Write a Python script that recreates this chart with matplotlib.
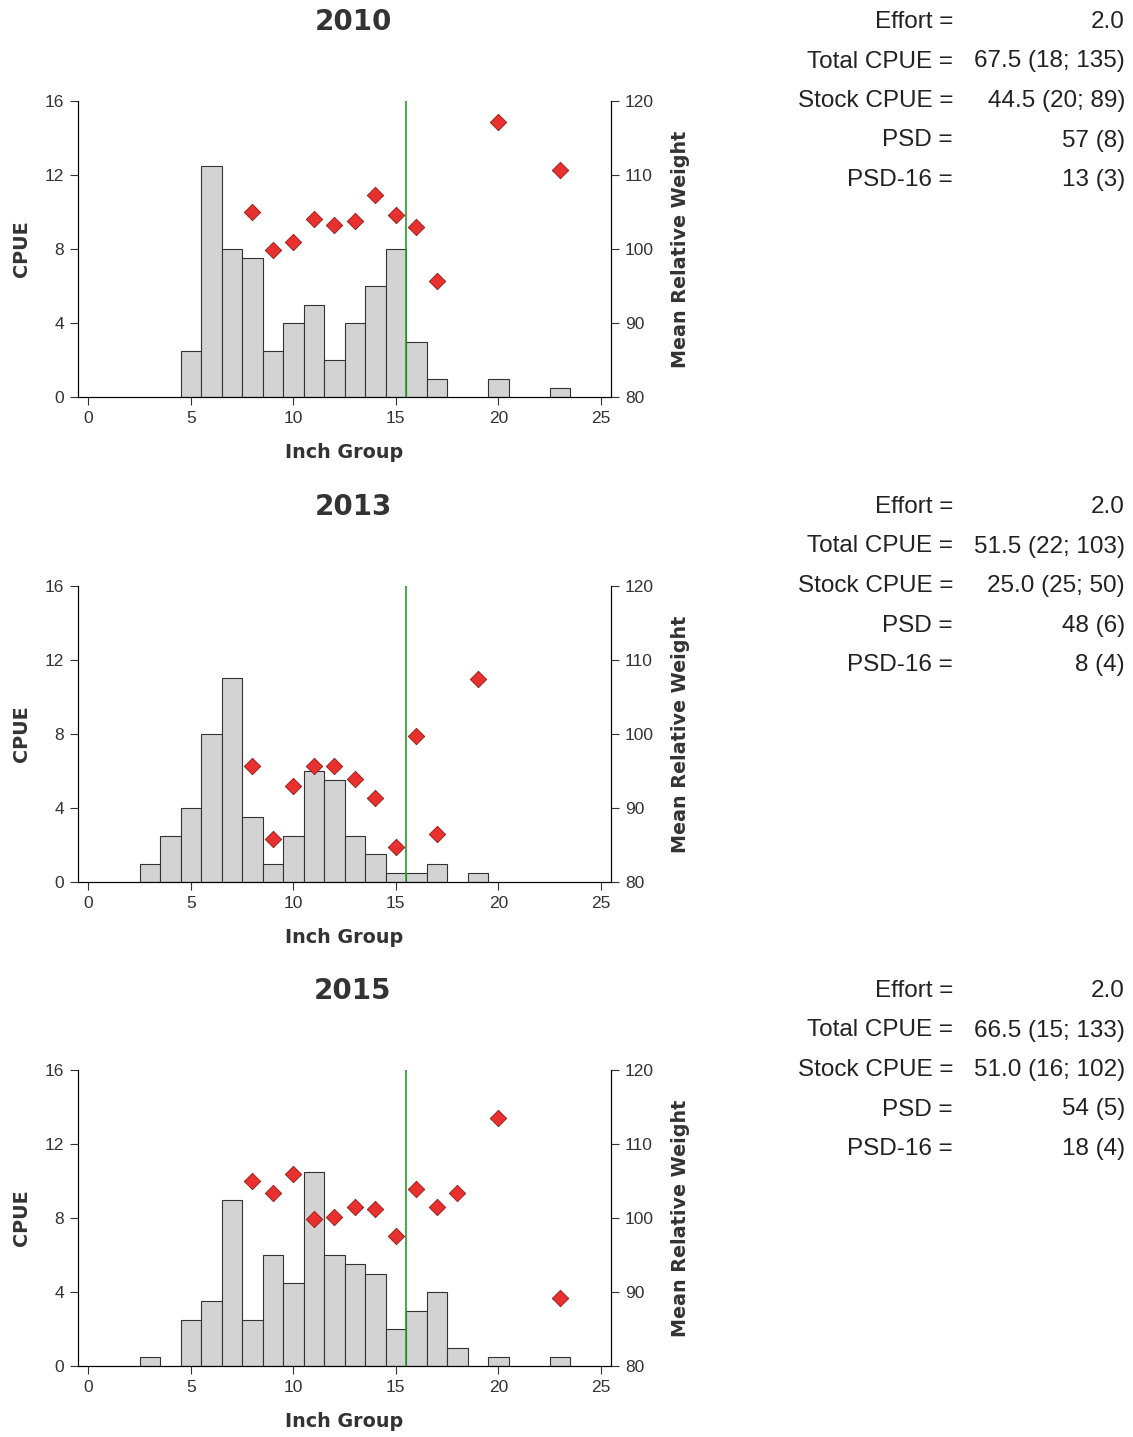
import numpy as np
import matplotlib
matplotlib.use('Agg')
import matplotlib.pyplot as plt

plt.rcParams['font.family'] = ['Liberation Sans', 'DejaVu Sans']

years = ['2010', '2013', '2015']

# bars: inch group -> CPUE
bar_x_2010 = [5, 6, 7, 8, 9, 10, 11, 12, 13, 14, 15, 16, 17, 20, 23]
bar_y_2010 = [2.5, 12.5, 8, 7.5, 2.5, 4, 5, 2, 4, 6, 8, 3, 1, 1, 0.5]
bar_x_2013 = [3, 4, 5, 6, 7, 8, 9, 10, 11, 12, 13, 14, 15, 16, 17, 19]
bar_y_2013 = [1, 2.5, 4, 8, 11, 3.5, 1, 2.5, 6, 5.5, 2.5, 1.5, 0.5, 0.5, 1, 0.5]
bar_x_2015 = [3, 5, 6, 7, 8, 9, 10, 11, 12, 13, 14, 15, 16, 17, 18, 20, 23]
bar_y_2015 = [0.5, 2.5, 3.5, 9, 2.5, 6, 4.5, 10.5, 6, 5.5, 5, 2, 3, 4, 1, 0.5, 0.5]

# diamonds: mean relative weight
wr_x_2010 = [8, 9, 10, 11, 12, 13, 14, 15, 16, 17, 20, 23]
wr_y_2010 = [105, 99.9, 101, 104, 103.2, 103.8, 107.3, 104.6, 103, 95.7, 117.2, 110.7]
wr_x_2013 = [8, 9, 10, 11, 12, 13, 14, 15, 16, 17, 19]
wr_y_2013 = [95.7, 85.8, 93, 95.7, 95.7, 93.9, 91.4, 84.7, 99.7, 86.5, 107.4]
wr_x_2015 = [8, 9, 10, 11, 12, 13, 14, 15, 16, 17, 18, 20, 23]
wr_y_2015 = [105, 103.4, 105.9, 99.9, 100.1, 101.5, 101.2, 97.6, 103.9, 101.5, 103.4, 113.5, 89.2]

stat_labels = ['Effort =', 'Total CPUE =', 'Stock CPUE =', 'PSD =', 'PSD-16 =']
stats_2010 = ['2.0', '67.5 (18; 135)', '44.5 (20; 89)', '57 (8)', '13 (3)']
stats_2013 = ['2.0', '51.5 (22; 103)', '25.0 (25; 50)', '48 (6)', '8 (4)']
stats_2015 = ['2.0', '66.5 (15; 133)', '51.0 (16; 102)', '54 (5)', '18 (4)']

bars = [(bar_x_2010, bar_y_2010), (bar_x_2013, bar_y_2013), (bar_x_2015, bar_y_2015)]
wrs = [(wr_x_2010, wr_y_2010), (wr_x_2013, wr_y_2013), (wr_x_2015, wr_y_2015)]
stats = [stats_2010, stats_2013, stats_2015]

W, H = 1133, 1437
fig = plt.figure(figsize=(W/100, H/100), dpi=100)

ax_tops = [101, 586, 1070]
ax_bots = [397, 882, 1366]
title_y = [22, 507, 991]
left, right = 78, 611
bold = dict(family='DejaVu Sans', fontweight='bold', color='#333333')

for k in range(3):
    top, bot = ax_tops[k], ax_bots[k]
    ax = fig.add_axes([left/W, 1-bot/H, (right-left)/W, (bot-top)/H])
    ax.bar(bars[k][0], bars[k][1], width=1, color='#d3d3d3', edgecolor='#333333', linewidth=0.8, zorder=2)
    ax.axvline(15.5, color='#22a022', linewidth=1.2, zorder=3)
    ax.set_xlim(-0.5, 25.5)
    ax.set_ylim(0, 16)
    ax.set_xticks([0, 5, 10, 15, 20, 25])
    ax.set_yticks([0, 4, 8, 12, 16])
    ax.spines['top'].set_visible(False)
    ax.tick_params(labelsize=12.5, colors='#333333', length=6, pad=4)
    ax.set_xlabel('Inch Group', fontsize=13.8, labelpad=12, **bold)
    ax.set_ylabel('CPUE', fontsize=13.8, labelpad=10, **bold)
    fig.text(353/W, 1-title_y[k]/H, years[k], ha='center', va='center', fontsize=20, **bold)

    ax2 = ax.twinx()
    ax2.scatter(wrs[k][0], wrs[k][1], marker='D', s=70, color='#e8302e', edgecolor='#8b1a1a', linewidth=0.6, zorder=4)
    ax2.set_ylim(80, 120)
    ax2.set_yticks([80, 90, 100, 110, 120])
    ax2.spines['top'].set_visible(False)
    ax2.tick_params(labelsize=12.5, colors='#333333', length=6, pad=4)
    ax2.set_ylabel('Mean Relative Weight', fontsize=13.8, labelpad=12, **bold)

    for i, lab in enumerate(stat_labels):
        y = 1 - (title_y[k] + i*39.5)/H
        fig.text(953/W, y, lab, ha='right', va='center', fontsize=17.5, color='#222222')
        fig.text(1125/W, y, stats[k][i], ha='right', va='center', fontsize=17.5, color='#222222')

plt.savefig('out.png', dpi=100)
